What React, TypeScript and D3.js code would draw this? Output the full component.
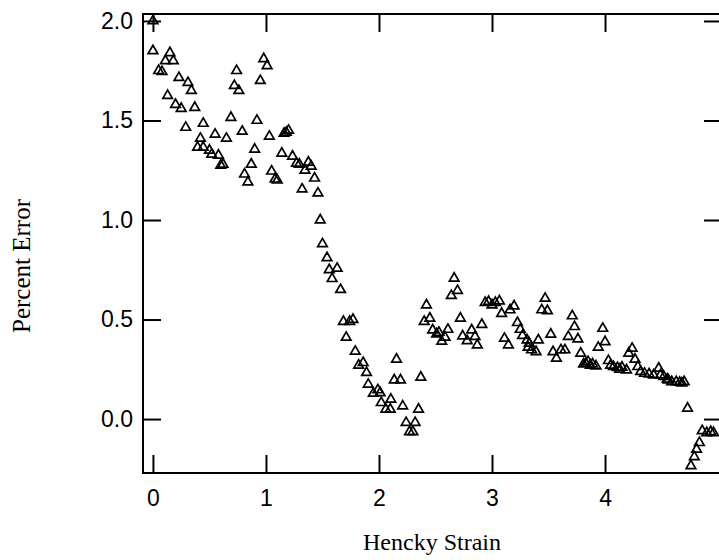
import { useRef, useEffect } from "react";
import * as d3 from "d3";

// Hencky strain (x) and percent error (y)
const strain = [
  0.0, 0.0, 0.05, 0.08, 0.11, 0.13, 0.15, 0.18, 0.2, 0.23, 0.25, 0.29, 0.31, 0.34, 0.37, 0.395, 0.42, 0.445,
  0.445, 0.5, 0.52, 0.55, 0.58, 0.6, 0.62, 0.65, 0.69, 0.72, 0.74, 0.76, 0.79, 0.81, 0.84, 0.87, 0.9, 0.92,
  0.95, 0.98, 1.01, 1.03, 1.05, 1.08, 1.1, 1.14, 1.16, 1.18, 1.2, 1.235, 1.27, 1.295, 1.32, 1.345, 1.375, 1.4,
  1.43, 1.46, 1.48, 1.5, 1.54, 1.56, 1.585, 1.63, 1.66, 1.685, 1.71, 1.74, 1.77, 1.79, 1.82, 1.86, 1.89, 1.905,
  1.95, 1.99, 2.01, 2.02, 2.06, 2.1, 2.105, 2.135, 2.155, 2.19, 2.21, 2.24, 2.27, 2.3, 2.32, 2.35, 2.37, 2.4,
  2.42, 2.45, 2.475, 2.51, 2.53, 2.555, 2.585, 2.61, 2.64, 2.665, 2.695, 2.72, 2.74, 2.78, 2.82, 2.85, 2.87,
  2.91, 2.94, 2.97, 3.0, 3.03, 3.065, 3.085, 3.11, 3.145, 3.16, 3.195, 3.225, 3.25, 3.27, 3.31, 3.32, 3.33,
  3.35, 3.39, 3.41, 3.44, 3.47, 3.49, 3.52, 3.54, 3.57, 3.61, 3.645, 3.675, 3.71, 3.73, 3.76, 3.785, 3.81,
  3.83, 3.85, 3.87, 3.89, 3.92, 3.94, 3.98, 4.0, 4.03, 4.05, 4.075, 4.11, 4.13, 4.15, 4.19, 4.21, 4.24, 4.265,
  4.29, 4.315, 4.35, 4.39, 4.43, 4.475, 4.49, 4.52, 4.55, 4.56, 4.59, 4.63, 4.66, 4.68, 4.7, 4.73, 4.76, 4.79,
  4.81, 4.835, 4.86, 4.9, 4.935, 4.96,
];
const percentError = [
  2.0, 1.85, 1.75, 1.745, 1.8, 1.625, 1.84, 1.8, 1.58, 1.715, 1.56, 1.465, 1.69, 1.65, 1.565, 1.365, 1.41, 1.485,
  1.365, 1.35, 1.33, 1.43, 1.325, 1.275, 1.28, 1.41, 1.515, 1.675, 1.75, 1.65, 1.445, 1.23, 1.19, 1.28, 1.355, 1.5,
  1.7, 1.81, 1.775, 1.42, 1.245, 1.205, 1.2, 1.335, 1.435, 1.44, 1.45, 1.32, 1.285, 1.28, 1.155, 1.25, 1.29, 1.27,
  1.21, 1.135, 1.0, 0.88, 0.81, 0.75, 0.705, 0.757, 0.65, 0.49, 0.41, 0.49, 0.5, 0.34, 0.27, 0.283, 0.233, 0.174,
  0.129, 0.146, 0.132, 0.082, 0.049, 0.049, 0.099, 0.196, 0.3, 0.196, 0.065, -0.018, -0.064, -0.064, -0.018, 0.049, 0.21, 0.49,
  0.573, 0.506, 0.447, 0.427, 0.435, 0.39, 0.41, 0.45, 0.62, 0.707, 0.645, 0.506, 0.417, 0.393, 0.447, 0.414, 0.372,
  0.475, 0.585, 0.59, 0.573, 0.585, 0.593, 0.53, 0.405, 0.372, 0.548, 0.568, 0.484, 0.45, 0.419, 0.397, 0.36, 0.38,
  0.347, 0.338, 0.397, 0.548, 0.606, 0.544, 0.426, 0.338, 0.305, 0.347, 0.347, 0.414, 0.518, 0.464, 0.402, 0.33, 0.276,
  0.28, 0.288, 0.27, 0.276, 0.266, 0.36, 0.455, 0.388, 0.293, 0.27, 0.263, 0.258, 0.25, 0.26, 0.246, 0.33, 0.355, 0.3,
  0.263, 0.238, 0.229, 0.226, 0.221, 0.255, 0.221, 0.213, 0.2, 0.196, 0.187, 0.187, 0.184, 0.18, 0.187, 0.054, -0.235, -0.19,
  -0.152, -0.119, -0.059, -0.069, -0.064, -0.069,
];
const xTicks = [0, 1, 2, 3, 4];
const yTicks = [0, 0.5, 1, 1.5, 2];

const App = () => {
  const ref = useRef<SVGSVGElement>(null);

  useEffect(() => {
    if (!ref.current) return;
    const svg = d3.select(ref.current);
    svg.selectAll("*").remove();

    const x = d3.scaleLinear().domain([-0.088, 5.035]).range([143, 722]);
    const y = d3.scaleLinear().domain([-0.271, 2.035]).range([473, 14]);
    const tick = 18;

    const frame = svg.append("g").attr("stroke", "#000").attr("stroke-width", 2).attr("fill", "none");
    frame
      .append("rect")
      .attr("x", x.range()[0])
      .attr("y", y.range()[1])
      .attr("width", x.range()[1] - x.range()[0])
      .attr("height", y.range()[0] - y.range()[1]);

    // bottom + top axes, ticks pointing inward
    const bottom = svg
      .append("g")
      .attr("transform", `translate(0,${y.range()[0]})`)
      .call(d3.axisBottom(x).tickValues(xTicks).tickFormat(d3.format("d")).tickSize(-tick).tickPadding(17));
    svg
      .append("g")
      .attr("transform", `translate(0,${y.range()[1]})`)
      .call(d3.axisTop(x).tickValues(xTicks).tickFormat(() => "").tickSize(-tick));

    const left = svg
      .append("g")
      .attr("transform", `translate(${x.range()[0]},0)`)
      .call(d3.axisLeft(y).tickValues(yTicks).tickFormat(d3.format(".1f")).tickSize(-tick).tickPadding(10));
    svg
      .append("g")
      .attr("transform", `translate(${x.range()[1]},0)`)
      .call(d3.axisRight(y).tickValues(yTicks).tickFormat(() => "").tickSize(-tick));

    svg.selectAll(".domain").remove();
    svg.selectAll(".tick line").attr("stroke", "#000").attr("stroke-width", 2);
    [bottom, left].forEach((g) =>
      g
        .selectAll("text")
        .attr("fill", "#000")
        .style("font-family", "'Liberation Sans', Arial, sans-serif")
        .style("font-size", "23px")
    );

    // open triangle markers
    const tri = d3.symbol(d3.symbolTriangle, 40);
    svg
      .append("g")
      .selectAll("path")
      .data(strain.map((s, i) => [s, percentError[i]]))
      .enter()
      .append("path")
      .attr("d", tri)
      .attr("transform", (d) => `translate(${x(d[0])},${y(d[1])})`)
      .attr("fill", "none")
      .attr("stroke", "#000")
      .attr("stroke-width", 1.7);

    // axis titles
    svg
      .append("text")
      .text("Hencky Strain")
      .attr("x", 432)
      .attr("y", 550)
      .attr("text-anchor", "middle")
      .style("font-family", "'Liberation Serif', 'Times New Roman', serif")
      .style("font-size", "24px");
    svg
      .append("text")
      .text("Percent Error")
      .attr("transform", "translate(30,266) rotate(-90)")
      .attr("text-anchor", "middle")
      .style("font-family", "'Liberation Serif', 'Times New Roman', serif")
      .style("font-size", "25px");
  }, []);

  return (
    <div style={{ position: "fixed", left: 0, top: 0, background: "#fff" }}>
      <svg ref={ref} width={719} height={560} style={{ display: "block" }} />
    </div>
  );
};

export default App;
